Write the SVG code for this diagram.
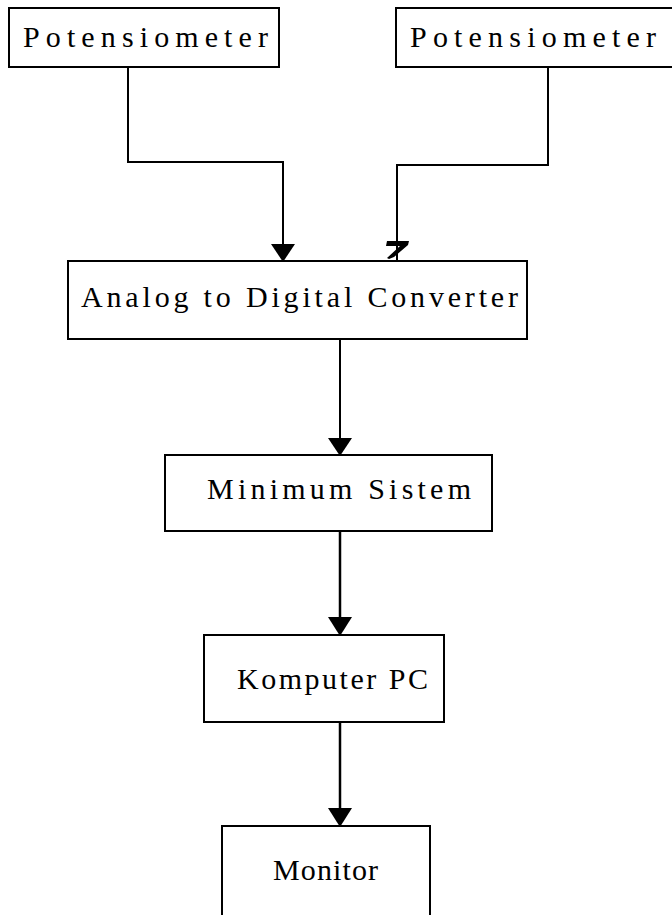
<svg xmlns="http://www.w3.org/2000/svg" width="672" height="915" viewBox="0 0 672 915">
<style>
.box{fill:#fff;stroke:#000;stroke-width:2}
.lbl{font-family:"Liberation Serif","Times New Roman",serif;font-size:30px;fill:#000}
.wire{fill:none;stroke:#000;stroke-width:2}
.head{fill:#000;stroke:none}
</style>
<rect width="672" height="915" fill="#fff"/>
<g id="connectors">
<polyline class="wire" points="128,67 128,162 283,162 283,248"/>
<polygon class="head" points="271,244 295,244 283,262"/>
<polyline class="wire" points="548,67 548,165 397,165 397,262"/>
<polygon class="head" points="387,241 409,241 408,245 394,257 389,259 387,258 400,246 386,246"/>
<line class="wire" x1="340" y1="339" x2="340" y2="442"/>
<polygon class="head" points="328,438 352,438 340,456"/>
<line class="wire" x1="340" y1="531" x2="340" y2="620" style="stroke-width:2.5"/>
<polygon class="head" points="328,617 352,617 340,636"/>
<line class="wire" x1="340" y1="722" x2="340" y2="811" style="stroke-width:2.5"/>
<polygon class="head" points="328,808 352,808 340,827"/>
</g>
<g id="pot1">
<rect class="box" x="9" y="8" width="270" height="59"/>
<text class="lbl" x="23" y="47" textLength="245" lengthAdjust="spacing">Potensiometer</text>
</g>
<g id="pot2">
<rect class="box" x="396" y="8" width="282" height="59"/>
<text class="lbl" x="410" y="47" textLength="246" lengthAdjust="spacing">Potensiometer</text>
</g>
<g id="adc">
<rect class="box" x="68" y="261" width="459" height="78"/>
<text class="lbl" x="81" y="307" textLength="437" lengthAdjust="spacing">Analog to Digital Converter</text>
</g>
<g id="minsis">
<rect class="box" x="165" y="455" width="327" height="76"/>
<text class="lbl" x="207" y="499" textLength="264" lengthAdjust="spacing">Minimum Sistem</text>
</g>
<g id="komputer">
<rect class="box" x="204" y="635" width="240" height="87"/>
<text class="lbl" x="237" y="689" textLength="191" lengthAdjust="spacing">Komputer PC</text>
</g>
<g id="monitor">
<polyline class="wire" points="222,915 222,826 430,826 430,915"/>
<text class="lbl" x="273" y="880" textLength="105" lengthAdjust="spacing">Monitor</text>
</g>
</svg>
